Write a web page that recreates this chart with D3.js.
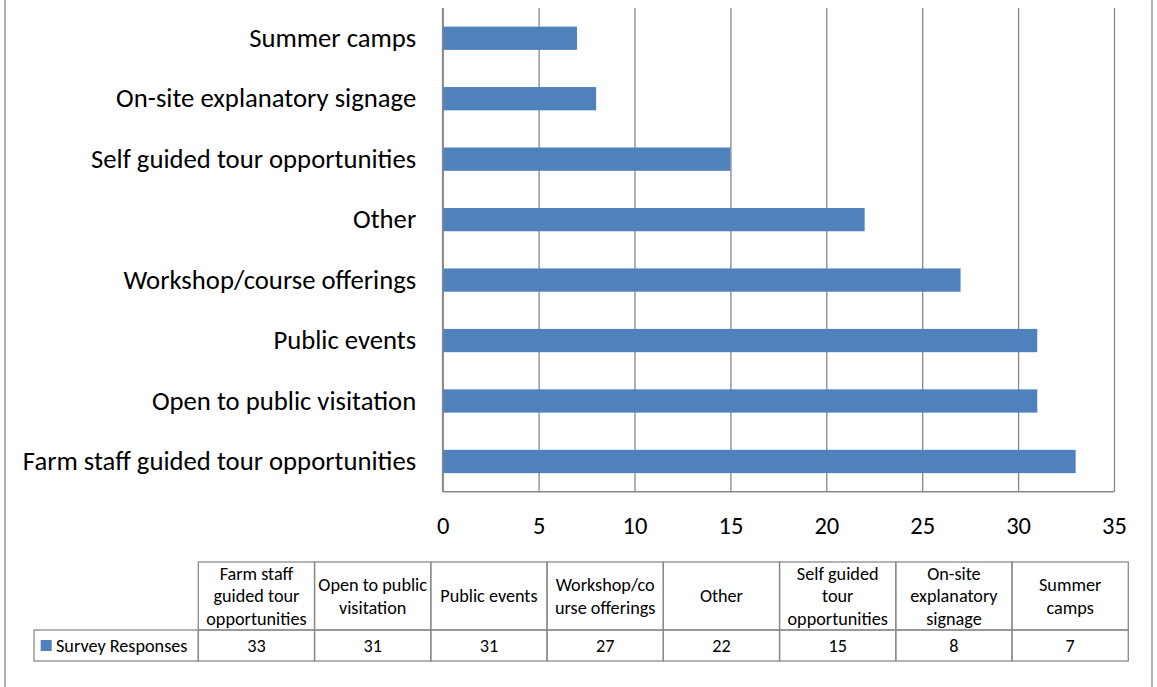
<!DOCTYPE html>
<html>
<head>
<meta charset="utf-8">
<script src="https://cdn.jsdelivr.net/npm/d3@7"></script>
<style>
  html, body { margin: 0; padding: 0; background: #fff; }
  svg { display: block; }
  text { font-family: Carlito, Calibri, Lato, sans-serif; fill: #000; }
</style>
</head>
<body>
<script>
// Survey responses by type of on-farm public activity
const categories = [
  "Farm staff guided tour opportunities",
  "Open to public visitation",
  "Public events",
  "Workshop/course offerings",
  "Other",
  "Self guided tour opportunities",
  "On-site explanatory signage",
  "Summer camps"
];
const responses = [33, 31, 31, 27, 22, 15, 8, 7];
const seriesName = "Survey Responses";
const xTicks = [0, 5, 10, 15, 20, 25, 30, 35];
// header text of the data table, line by line
const tableHeaderLines = [
  ["Farm staff", "guided tour", "opportunities"],
  ["Open to public", "visitation"],
  ["Public events"],
  ["Workshop/co", "urse offerings"],
  ["Other"],
  ["Self guided", "tour", "opportunities"],
  ["On-site", "explanatory", "signage"],
  ["Summer", "camps"]
];

const W = 1157, H = 687;
const barColor = "#4F81BD";
const gridColor = "#878787";
const lineColor = "#8a8a8a";

const svg = d3.select("body").append("svg")
  .attr("width", W).attr("height", H);

// outer chart frame
svg.append("rect")
  .attr("x", 5).attr("y", -4).attr("width", 1147).attr("height", H + 8)
  .attr("fill", "none").attr("stroke", gridColor).attr("stroke-width", 1.3);

const plot = { left: 442.7, right: 1114, top: 8, bottom: 491.7 };

const x = d3.scaleLinear().domain([0, 35]).range([plot.left, plot.right]);
const y = d3.scaleBand()
  .domain(categories.slice().reverse())
  .range([plot.top, plot.bottom])
  .paddingInner(0.615).paddingOuter(0.3075);

// vertical gridlines
const grid = svg.append("g")
  .attr("transform", `translate(0,${plot.bottom})`)
  .call(d3.axisBottom(x).tickValues(xTicks).tickSize(-(plot.bottom - plot.top)).tickFormat(""));
grid.select(".domain").remove();
grid.selectAll(".tick line").attr("stroke", gridColor).attr("stroke-width", 1.3);

// bars
svg.append("g").selectAll("rect")
  .data(categories)
  .join("rect")
  .attr("x", x(0))
  .attr("y", d => y(d))
  .attr("width", (d, i) => x(responses[i]) - x(0))
  .attr("height", y.bandwidth())
  .attr("fill", barColor);

// axis lines
svg.append("line")
  .attr("x1", plot.left).attr("x2", plot.right)
  .attr("y1", plot.bottom).attr("y2", plot.bottom)
  .attr("stroke", gridColor).attr("stroke-width", 1.6);
svg.append("line")
  .attr("x1", plot.left).attr("x2", plot.left)
  .attr("y1", plot.top).attr("y2", plot.bottom)
  .attr("stroke", gridColor).attr("stroke-width", 1.6);

// x tick labels
const xAxis = svg.append("g")
  .attr("transform", `translate(0,${plot.bottom})`)
  .call(d3.axisBottom(x).tickValues(xTicks).tickSize(0).tickPadding(25));
xAxis.select(".domain").remove();
xAxis.selectAll("text").style("font-size", "24.5px").attr("fill", "#000");

// category labels
const yAxis = svg.append("g")
  .attr("transform", `translate(${plot.left},0)`)
  .call(d3.axisLeft(y).tickSize(0).tickPadding(26.5));
yAxis.select(".domain").remove();
yAxis.selectAll("text").style("font-size", "26.7px").attr("fill", "#000");

// data table
const tbl = { left: 198.3, right: 1128.3, top: 562, mid: 630, bottom: 661, legendLeft: 34 };
const col = d3.scaleBand().domain(categories).range([tbl.left, tbl.right]);
const t = svg.append("g");

// header row cells
t.selectAll("rect.hdr")
  .data(categories)
  .join("rect")
  .attr("class", "hdr")
  .attr("x", d => col(d)).attr("y", tbl.top)
  .attr("width", col.bandwidth()).attr("height", tbl.mid - tbl.top)
  .attr("fill", "none").attr("stroke", lineColor).attr("stroke-width", 1.3);
// value row cells
t.selectAll("rect.val")
  .data(categories)
  .join("rect")
  .attr("class", "val")
  .attr("x", d => col(d)).attr("y", tbl.mid)
  .attr("width", col.bandwidth()).attr("height", tbl.bottom - tbl.mid)
  .attr("fill", "none").attr("stroke", lineColor).attr("stroke-width", 1.3);
// legend cell
t.append("rect")
  .attr("x", tbl.legendLeft).attr("y", tbl.mid)
  .attr("width", tbl.left - tbl.legendLeft).attr("height", tbl.bottom - tbl.mid)
  .attr("fill", "none").attr("stroke", lineColor).attr("stroke-width", 1.3);

const tableFont = "18.2px";
const lineH = 22.5;
const hdrMid = (tbl.top + tbl.mid) / 2;
t.selectAll("text.hdr")
  .data(categories)
  .join("text")
  .attr("class", "hdr")
  .attr("text-anchor", "middle")
  .style("font-size", tableFont)
  .each(function(d, i) {
    const lines = tableHeaderLines[i];
    const cx = col(d) + col.bandwidth() / 2;
    const y0 = hdrMid - (lines.length - 1) * lineH / 2;
    d3.select(this).selectAll("tspan")
      .data(lines)
      .join("tspan")
      .attr("x", cx)
      .attr("y", (l, k) => y0 + k * lineH)
      .attr("dy", "0.35em")
      .text(l => l);
  });

const valMid = (tbl.mid + tbl.bottom) / 2;
t.selectAll("text.val")
  .data(categories)
  .join("text")
  .attr("class", "val")
  .attr("x", d => col(d) + col.bandwidth() / 2)
  .attr("y", valMid)
  .attr("dy", "0.35em")
  .attr("text-anchor", "middle")
  .style("font-size", tableFont)
  .text((d, i) => responses[i]);

// legend key and series name
t.append("rect")
  .attr("x", 40.7).attr("y", valMid - 5.5)
  .attr("width", 11).attr("height", 11)
  .attr("fill", barColor);
t.append("text")
  .attr("x", 56).attr("y", valMid).attr("dy", "0.35em")
  .style("font-size", tableFont)
  .text(seriesName);
</script>
</body>
</html>
